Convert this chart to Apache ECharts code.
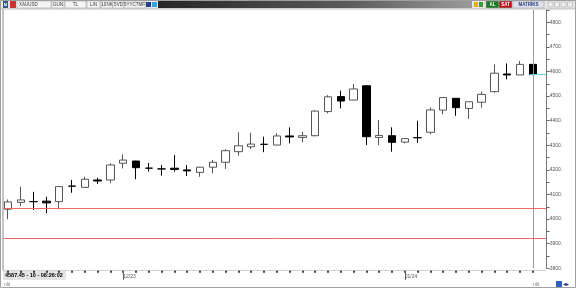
<!DOCTYPE html>
<html><head><meta charset="utf-8">
<script src="https://cdn.jsdelivr.net/npm/echarts@6/dist/echarts.min.js"></script>
<style>html,body{margin:0;padding:0;background:#fff}#c{width:576px;height:288px}</style>
</head><body><div id="c"></div>
<script>
const categories = ['1','2','3','4','5','6','7','8','9','10','11','12','13','14','15','16','17','18','19','20','21','22','23','24','25','26','27','28','29','30','31','32','33','34','35','36','37','38','39','40','41','42'];
const openV  = [4040,4068,4071,4073,4071,4134,4129,4159,4159,4227,4236,4207,4204,4207,4200,4190,4211,4231,4274,4294,4304,4301,4338,4332,4339,4437,4498,4484,4542,4332,4339,4313,4331,4353,4443,4491,4450,4475,4518,4590,4586,4629];
const closeV = [4070,4078,4071,4066,4132,4134,4162,4155,4220,4240,4209,4207,4204,4202,4196,4211,4231,4278,4298,4305,4304,4338,4334,4339,4439,4497,4480,4529,4335,4340,4312,4327,4331,4444,4494,4453,4477,4507,4593,4586,4629,4587.45];
const lowV   = [4000,4053,4037,4024,4040,4107,4129,4143,4146,4206,4162,4193,4177,4193,4175,4172,4186,4204,4258,4285,4272,4301,4308,4312,4336,4430,4450,4484,4301,4301,4274,4308,4310,4345,4426,4420,4407,4453,4514,4568,4586,4586];
const highV  = [4080,4132,4111,4091,4133,4159,4172,4168,4227,4263,4237,4228,4220,4260,4220,4212,4240,4284,4353,4351,4335,4349,4373,4355,4442,4504,4522,4549,4545,4403,4373,4328,4400,4454,4495,4492,4478,4518,4629,4633,4643,4630];
const dateLabels = {9:'12/23', 31:'01/24'};
const levelLines = [4044, 3921];
const lastPrice = 4587.45;
const infoText = '4587.45 - 10 - 08:26:02';

const F = 'Liberation Sans';
function btn(x, w, label, fill, color, bold) {
  return [
    {type:'rect', shape:{x:x, y:1, width:w, height:7}, style:{fill:fill, stroke:'#a8a8a8', lineWidth:0.6}},
    {type:'text', x:x + w/2, y:4.6, style:{text:label, fill:color, font:(bold?'bold ':'')+'4.5px '+F, textAlign:'center', textVerticalAlign:'middle'}}
  ];
}
const graphics = [].concat(
  [{type:'rect', shape:{x:0,y:0,width:576,height:9}, style:{fill:'#e6e6e6'}}],
  [{type:'rect', shape:{x:3,y:1,width:5,height:7}, style:{fill:'#2f56a8'}},
   {type:'text', x:5.5, y:4.6, style:{text:'M', fill:'#fff', font:'bold 4px '+F, textAlign:'center', textVerticalAlign:'middle'}},
   {type:'rect', shape:{x:10,y:1,width:6,height:7}, style:{fill:'#d03030'}}],
  btn(17, 34, 'XAUUSD', '#f4f4f4', '#333', false).map((e,i)=> i===1 ? Object.assign(e,{x:19, style:Object.assign(e.style,{textAlign:'left'})}) : e),
  btn(52, 12, 'GUN', '#f4f4f4', '#333'),
  btn(65, 21, 'TL', '#f4f4f4', '#333'),
  btn(87, 13, 'LIN', '#f4f4f4', '#333'),
  btn(101, 12, '10NK', '#f4f4f4', '#333'),
  btn(113, 11, '5VD', '#f4f4f4', '#333'),
  btn(124, 21, '5YYCTMF', '#f4f4f4', '#333'),
  [{type:'rect', shape:{x:146,y:2,width:5,height:5}, style:{fill:'#2a3d8f'}},
   {type:'rect', shape:{x:152,y:2,width:5,height:5}, style:{fill:'#3aa0e8'}},
   {type:'rect', shape:{x:158,y:1,width:314,height:7}, style:{fill:new echarts.graphic.LinearGradient(0,0,1,0,[{offset:0,color:'#262626'},{offset:0.6,color:'#5a5a5a'},{offset:1,color:'#9a9a9a'}])}},
   {type:'rect', shape:{x:474,y:2,width:4,height:5}, style:{fill:'#e0b020'}},
   {type:'rect', shape:{x:479,y:2,width:4,height:5}, style:{fill:'#3a9a3a'}}],
  btn(486, 13, 'AL', '#1d7a25', '#fff', true),
  btn(499, 13, 'SAT', '#b3141c', '#fff', true),
  btn(513, 31, 'MATRİKS', '#dfe2ec', '#2a3a80', true),
  [0,1,2,3].map(k => ({type:'rect', shape:{x:548+k*6.5,y:2,width:5,height:5}, style:{fill:'#eeeeee', stroke:'#b0b0b0', lineWidth:0.6}})),
  [{type:'line', shape:{x1:0,y1:9,x2:576,y2:9}, style:{stroke:'#bdbdbd', lineWidth:1}},
   {type:'line', shape:{x1:3,y1:9,x2:3,y2:270}, style:{stroke:'#c4c4c4', lineWidth:2}},
   {type:'line', shape:{x1:3,y1:270.5,x2:546,y2:270.5}, style:{stroke:'#d0d0d0', lineWidth:1}},
   {type:'rect', shape:{x:3,y:271,width:63,height:9}, style:{fill:'#e4e4e4'}},
   {type:'text', x:5, y:275.8, style:{text:infoText, fill:'#000', font:'bold 5.5px '+F, textVerticalAlign:'middle'}},
   {type:'text', x:4, y:284.5, style:{text:'ıılıl', fill:'#777', font:'5px '+F, textVerticalAlign:'middle'}},
   {type:'text', x:533, y:284.5, style:{text:'ıılıl', fill:'#777', font:'5px '+F, textVerticalAlign:'middle'}},
   {type:'rect', shape:{x:556,y:281,width:6,height:6}, style:{fill:'#3060c0'}},
   {type:'text', x:563, y:284.5, style:{text:'◂▸', fill:'#2a3a80', font:'6px '+F, textVerticalAlign:'middle'}},
   {type:'rect', shape:{x:0.5,y:0.5,width:575,height:287}, style:{fill:'none', stroke:'#a0a0a0', lineWidth:1}}]
);

const chart = echarts.init(document.getElementById('c'), null, {renderer:'canvas'});
const last = categories[categories.length-1];
chart.setOption({
  animation:false,
  backgroundColor:'#ffffff',
  grid:{left:1.6, right:36.8, top:10, bottom:19.7, containLabel:false},
  xAxis:[{
    type:'category', data:categories, boundaryGap:true, offset:2.5,
    axisLine:{show:false},
    axisTick:{show:true, alignWithLabel:true, interval:0, length:2, lineStyle:{color:'#000', width:1.5}},
    axisLabel:{show:true, interval:0, margin:3, align:'left', fontSize:5, fontFamily:F, color:'#555',
      formatter:(v, i) => dateLabels[i] || ''},
    splitLine:{show:false}
  },{
    type:'category', data:categories, boundaryGap:true, position:'bottom', offset:2.5,
    axisLine:{show:false},
    axisTick:{show:true, alignWithLabel:true, interval:(i) => dateLabels[i] !== undefined, length:9, lineStyle:{color:'#666', width:1}},
    axisLabel:{show:false}, splitLine:{show:false}
  }],
  yAxis:{
    type:'value', position:'right', offset:7.5, min:3800, max:4850, interval:50,
    axisLine:{show:true, lineStyle:{color:'#777', width:1}},
    axisTick:{show:true, length:3, lineStyle:{color:'#666'}},
    axisLabel:{margin:3, fontSize:5, fontFamily:F, color:'#555',
      formatter:v => (v % 100 === 0 && v < 4850) ? (v + '.') : ''},
    splitLine:{show:false}
  },
  series:[{
    type:'candlestick', xAxisIndex:0,
    data: categories.map((c, i) => [openV[i], closeV[i], lowV[i], highV[i]]),
    barWidth:8,
    itemStyle:{color:'#ffffff', color0:'#000000', borderColor:'#555555', borderColor0:'#000000', borderColorDoji:'#000000', borderWidth:1},
    markLine:{
      silent:true, symbol:'none', label:{show:false}, animation:false,
      lineStyle:{color:'#9a9a9a', width:1, type:'solid'},
      data: [
        {xAxis:last},
        [{coord:[last, lastPrice], x:530, lineStyle:{color:'#5cd6d6', width:1, type:'solid'}}, {coord:[last, lastPrice], x:546}]
      ]
    }
  }].concat(levelLines.map(v => ({
    type:'line', data:[], silent:true, z:10, zlevel:1,
    markLine:{
      silent:true, symbol:'none', label:{show:false}, animation:false, z:10,
      lineStyle:{color:'#f06868', width:1, type:'solid'},
      emphasis:{disabled:true},
      data:[[{yAxis:v, x:3}, {yAxis:v, x:546}]]
    }
  }))),
  graphic: graphics
});
</script></body></html>
